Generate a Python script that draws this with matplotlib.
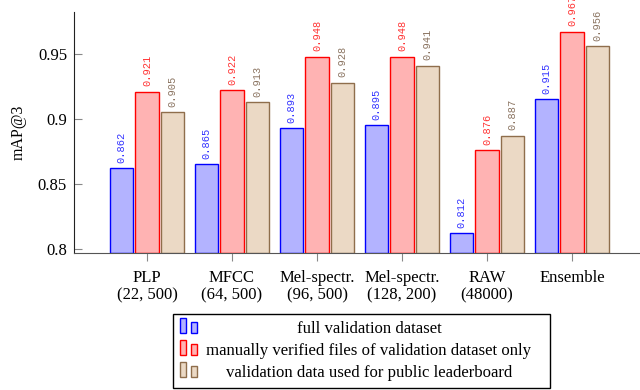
import matplotlib.pyplot as plt
from matplotlib.patches import Rectangle

# mAP@3 per feature set, three evaluation subsets
groups = ["PLP\n(22, 500)", "MFCC\n(64, 500)", "Mel-spectr.\n(96, 500)",
          "Mel-spectr.\n(128, 200)", "RAW\n(48000)", "Ensemble"]
full_val = [0.862, 0.865, 0.893, 0.895, 0.812, 0.915]
verified = [0.921, 0.922, 0.948, 0.948, 0.876, 0.967]
leaderboard = [0.905, 0.913, 0.928, 0.941, 0.887, 0.956]
legend_labels = ["full validation dataset",
                 "manually verified files of validation dataset only",
                 "validation data used for public leaderboard"]

edges = ["#0000ff", "#ff0000", "#8f6e4c"]
fills = ["#b3b3ff", "#ffb3b3", "#ebd9c5"]
text_cols = ["#3333ff", "#ff3333", "#8a7360"]

plt.rcParams['font.family'] = ['Liberation Serif', 'DejaVu Serif']
W, H = 640, 390
fig = plt.figure(figsize=(W / 100, H / 100), dpi=100)
ax = fig.add_axes([74 / W, 1 - 253 / H, 1 - 74 / W, (253 - 12) / H])

ymin, ymax = 0.7969, 0.9823
width = 0.28
offsets = [-0.3, 0.0, 0.3]
x = list(range(len(groups)))

for k, series in enumerate([full_val, verified, leaderboard]):
    xs = [i + offsets[k] for i in x]
    ax.bar(xs, [v - ymin for v in series], width, bottom=ymin,
           color=fills[k], edgecolor=edges[k], linewidth=1.0, zorder=2)
    for xi, v in zip(xs, series):
        ax.annotate("%.3f" % v, (xi, v), xytext=(0, 4), textcoords="offset points",
                    rotation=90, ha="center", va="bottom", fontsize=7.5,
                    family="Liberation Mono", color=text_cols[k],
                    annotation_clip=False)

ax.set_xlim(-0.859, 5.8)
ax.set_ylim(ymin, ymax)
ax.set_yticks([0.8, 0.85, 0.9, 0.95])
ax.set_yticklabels(["0.8", "0.85", "0.9", "0.95"])
ax.set_xticks(x)
ax.set_xticklabels(groups, linespacing=1.15)
ax.tick_params(axis="both", labelsize=12, width=0.8, color="#888888")
ax.tick_params(axis="x", direction="out", length=6, pad=6)
ax.tick_params(axis="y", direction="in", length=6, pad=5)
ax.set_ylabel("mAP@3", fontsize=11.5, labelpad=8)
ax.spines["top"].set_visible(False)
ax.spines["right"].set_visible(False)
ax.spines["left"].set_color("#222222")
ax.spines["bottom"].set_color("#555555")
ax.patch.set_visible(False)


def px(xp, yp):
    return xp / W, 1 - yp / H


# legend drawn by hand: icons at left, text centred in the box
x0, y0 = px(173, 388)
fig.patches.append(Rectangle((x0, y0), (550 - 173) / W, (388 - 314) / H,
                             transform=fig.transFigure, fill=False,
                             edgecolor="black", linewidth=1.0))
for k, lab in enumerate(legend_labels):
    yc = 329 + 22 * k
    for xl, hgt in [(180, 15), (191, 11)]:
        bx, by = px(xl, yc + 4)
        fig.patches.append(Rectangle((bx, by), 6 / W, hgt / H,
                                     transform=fig.transFigure,
                                     facecolor=fills[k], edgecolor=edges[k],
                                     linewidth=1.0))
    tx, ty = px(369, yc)
    fig.text(tx, ty, lab, ha="center", va="center", fontsize=12.1)

fig.savefig("out.png", dpi=100)
